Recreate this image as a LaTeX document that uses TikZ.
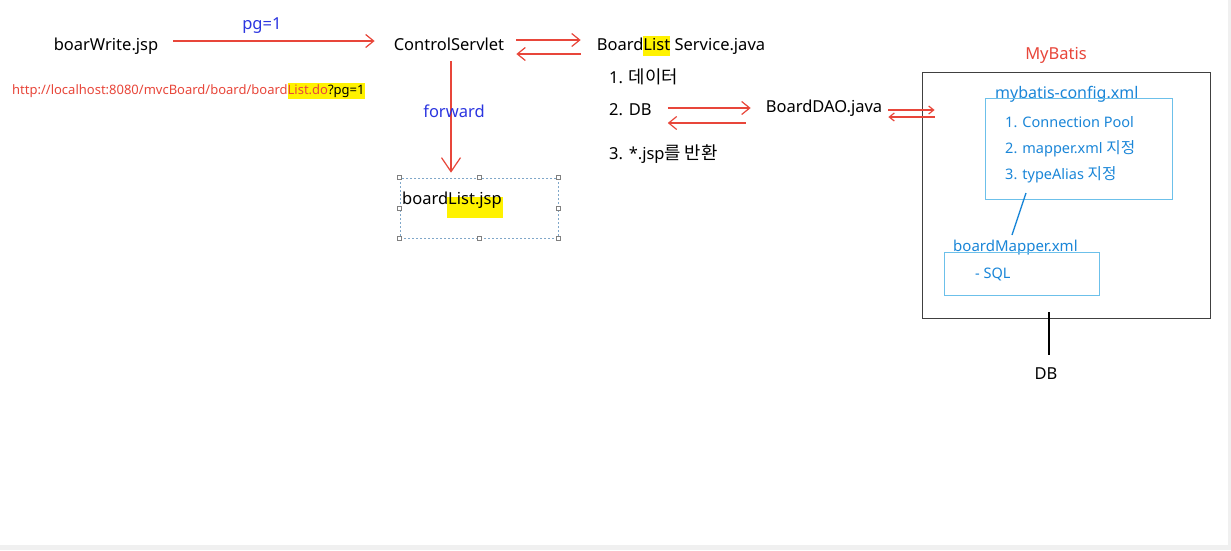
\documentclass[tikz,border=0pt]{standalone}
\usepackage{fontspec}
\setmainfont{Noto Sans}
\newfontfamily\kr[Scale=1.08]{Noto Sans CJK KR}
\usetikzlibrary{arrows.meta,positioning,calc}
\definecolor{arrred}{HTML}{E8463A}
\definecolor{txtblue}{HTML}{2B35E0}
\definecolor{mbblue}{HTML}{1A86D8}
\definecolor{boxblue}{HTML}{6CC0EA}
\definecolor{hlyellow}{HTML}{FFF200}
\definecolor{selgray}{HTML}{7FA7C9}
\newcommand{\hlite}[1]{{\setlength{\fboxsep}{0pt}\colorbox{hlyellow}{\strut #1}}}
\tikzset{
txt/.style     = {inner sep=0pt, font=\fontsize{16.5}{20}\selectfont, text height=15pt, text depth=1pt},
blue/.style    = {txt, text=txtblue},
url/.style     = {inner sep=0pt, anchor=west, font=\fontsize{13}{16}\selectfont, text=arrred},
cfgitem/.style = {inner sep=0pt, anchor=west, font=\fontsize{14.5}{18}\selectfont, text=mbblue},
thinbox/.style = {draw=boxblue, line width=1pt},
handle/.style  = {draw=gray, fill=white, inner sep=0pt, minimum size=4pt, line width=0.5pt},
arr/.style     = {draw=arrred, line width=1.2pt, -{Straight Barb[length=8pt,width=13pt]}},
smallarr/.style = {arr, -{Straight Barb[length=5pt,width=8pt]}}
}

\begin{document}
\begin{tikzpicture}[x=1pt, y=-1pt]
  \fill [white] (0,0) rectangle (1231,550);
  \useasboundingbox (0,0) rectangle (1231,550);
  \fill [gray!12] (0,545) rectangle (1231,550);
  \fill [gray!12] (1228,0) rectangle (1231,550);

  % request side
  \node [txt] (bwrite) at (106,43)                          {boarWrite.jsp};
  \node [txt, right of=bwrite, node distance=343pt]   (cservlet) {ControlServlet};
  \node [txt, right of=cservlet, node distance=232pt] (service)  {Board\hlite{List} Service.java};
  \node [url] (url) at (12,91) {http://localhost:8080/mvcBoard/board/board\hlite{List.do\textcolor{black}{?pg=1}}};

  % service steps
  \node [txt, anchor=west] (data1) at (609,76)  {1. {\kr 데이터}};
  \node [txt, anchor=west] (db2)   at (609,108) {2. DB};
  \node [txt, anchor=west] (jsp3)  at (609,152) {3. *.jsp{\kr 를 반환}};
  \node [txt] (dao) at (824,105) {BoardDAO.java};

  % forwarded page
  \node [draw=selgray, dash pattern=on 2pt off 2pt, line width=0.6pt, minimum width=158pt, minimum height=60pt] (blist) at (479,208) {};
  \fill [hlyellow] (447,197) rectangle (503,218);
  \node [txt, anchor=west] (blisttxt) at (402,197) {boardList.jsp};
  \foreach \a in {north west,north,north east,east,south east,south,south west,west}
    \node [handle] at (blist.\a) {};

  % mybatis
  \node [txt, text=arrred] (mybatis) at (1056,52) {MyBatis};
  \node [draw=black!75, line width=0.8pt, minimum width=288pt, minimum height=246pt] (mbox) at (1066,195) {};
  \node [cfgitem, font=\fontsize{16}{19}\selectfont] (cfgtitle) at (995,94) {mybatis-config.xml};
  \node [thinbox, minimum width=187pt, minimum height=101pt] (cfg) at (1078.5,148.5) {};
  \foreach \entry [count=\i] in {Connection Pool, mapper.xml {\kr 지정}, typeAlias {\kr 지정}}
    \node [cfgitem] (c\i) at (1005,95.5+26.5*\i) {\i. \entry};
  \node [cfgitem, font=\fontsize{15}{18}\selectfont] (maptitle) at (953,248) {boardMapper.xml};
  \node [thinbox, minimum width=155pt, minimum height=43pt] (mapper) at (1021.5,273.5) {};
  \node [cfgitem] (sql) at (975,274) {- SQL};
  \node [txt] (db) at (1046,372) {DB};
  \coordinate (cfglink) at (1026,193);
  \coordinate (maplink) at (1012,235);
  \coordinate (dbtop)   at (1049,312);
  \coordinate (dblink)  at (1049,355);

  \draw [arr, shorten <=15pt, shorten >=19pt] ([yshift=2pt]bwrite.east) -- node [blue, above=10pt, pos=0.44] {pg=1} ([yshift=2pt]bwrite.east -| cservlet.west);
  \draw [arr, shorten <=12pt, shorten >=16pt] ([yshift=3pt]cservlet.east) -- ([yshift=3pt]cservlet.east -| service.west);
  \draw [arr, shorten <=16pt, shorten >=12pt] ([yshift=-11pt]service.west) -- ([yshift=-11pt]service.west -| cservlet.east);
  \draw [arr, -{Straight Barb[length=14pt,width=19pt]}, shorten <=10pt, shorten >=5pt] ([xshift=2pt]cservlet.south) -- node [blue, pos=0.47, xshift=3pt] {forward} ([xshift=2pt]cservlet.south |- blist.north);
  \draw [arr, shorten <=16pt, shorten >=15pt] ([yshift=0pt]db2.east) -- ([yshift=0pt]db2.east -| dao.west);
  \draw [arr, shorten <=20pt, shorten >=16pt] ([yshift=-18pt]dao.west) -- ([yshift=-18pt]dao.west -| db2.east);
  \draw [smallarr, shorten <=6pt, shorten >=-13pt] ([yshift=-5pt]dao.east) -- ([yshift=-5pt]dao.east -| mbox.west);
  \draw [smallarr, shorten <=-13pt, shorten >=6pt] ([yshift=-12pt]dao.east -| mbox.west) -- ([yshift=-12pt]dao.east);
  \draw [mbblue, line width=1.3pt] (cfglink) -- (maplink);
  \draw [black, line width=1.2pt] (dbtop) -- (dblink);
\end{tikzpicture}
\end{document}
